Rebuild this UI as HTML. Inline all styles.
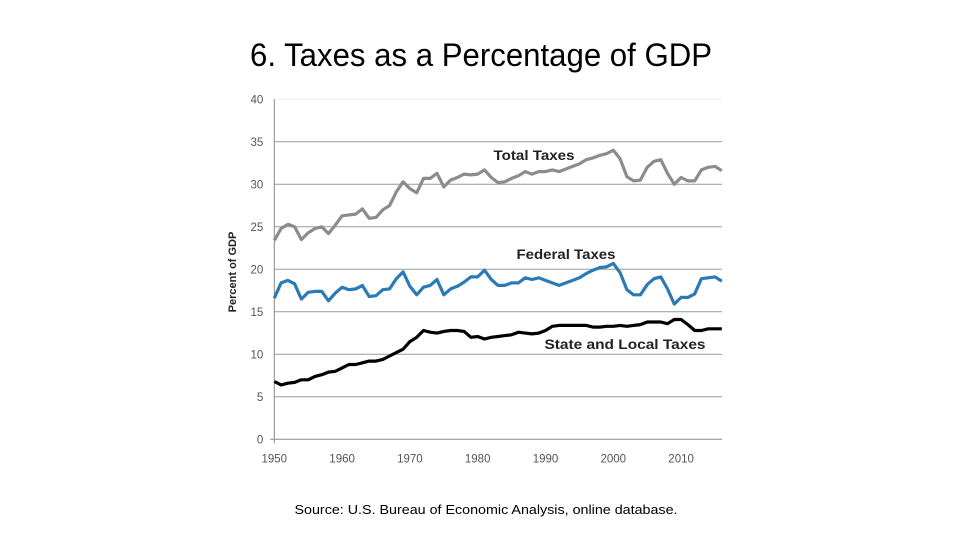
<!DOCTYPE html>
<html><head><meta charset="utf-8"><style>
body{margin:0;background:#fff}
svg{display:block;font-family:"Liberation Sans",sans-serif}
</style></head><body>
<svg id="chart" width="960" height="540" viewBox="0 0 960 540">
<text x="481" y="66" text-anchor="middle" font-size="32" textLength="462" lengthAdjust="spacingAndGlyphs" fill="#000">6. Taxes as a Percentage of GDP</text>
<g id="grid"></g><g id="axes"></g><g id="series"></g>
<text x="534" y="160" text-anchor="middle" font-size="14" font-weight="bold" fill="#222" textLength="81" lengthAdjust="spacingAndGlyphs">Total Taxes</text>
<text x="566" y="259" text-anchor="middle" font-size="14" font-weight="bold" fill="#222" textLength="99" lengthAdjust="spacingAndGlyphs">Federal Taxes</text>
<text x="625" y="349" text-anchor="middle" font-size="14" font-weight="bold" fill="#222" textLength="161" lengthAdjust="spacingAndGlyphs">State and Local  Taxes</text>
<text transform="translate(236,272) rotate(-90)" text-anchor="middle" font-size="11" font-weight="bold" fill="#222">Percent of GDP</text>
<text x="486" y="514" text-anchor="middle" font-size="12.5" fill="#000" textLength="383" lengthAdjust="spacingAndGlyphs">Source: U.S. Bureau of Economic Analysis, online database.</text>
</svg>
<script>
const startYear = 1950;
const federal = [16.6,18.4,18.7,18.3,16.5,17.3,17.4,17.4,16.3,17.2,17.9,17.6,17.7,18.1,16.8,16.9,17.6,17.7,18.9,19.7,18.0,17.0,17.9,18.1,18.8,17.0,17.7,18.0,18.5,19.1,19.1,19.9,18.8,18.1,18.1,18.4,18.4,19.0,18.8,19.0,18.7,18.4,18.1,18.4,18.7,19.0,19.5,19.9,20.2,20.3,20.7,19.6,17.6,17.0,17.0,18.2,18.9,19.1,17.7,15.9,16.7,16.7,17.1,18.9,19.0,19.1,18.6];
const stateLocal = [6.8,6.4,6.6,6.7,7.0,7.0,7.4,7.6,7.9,8.0,8.4,8.8,8.8,9.0,9.2,9.2,9.4,9.8,10.2,10.6,11.5,12.0,12.8,12.6,12.5,12.7,12.8,12.8,12.7,12.0,12.1,11.8,12.0,12.1,12.2,12.3,12.6,12.5,12.4,12.5,12.8,13.3,13.4,13.4,13.4,13.4,13.4,13.2,13.2,13.3,13.3,13.4,13.3,13.4,13.5,13.8,13.8,13.8,13.6,14.1,14.1,13.5,12.8,12.8,13.0,13.0,13.0];
const total = [23.4,24.8,25.3,25.0,23.5,24.3,24.8,25.0,24.2,25.2,26.3,26.4,26.5,27.1,26.0,26.1,27.0,27.5,29.1,30.3,29.5,29.0,30.7,30.7,31.3,29.7,30.5,30.8,31.2,31.1,31.2,31.7,30.8,30.2,30.3,30.7,31.0,31.5,31.2,31.5,31.5,31.7,31.5,31.8,32.1,32.4,32.9,33.1,33.4,33.6,34.0,33.0,30.9,30.4,30.5,32.0,32.7,32.9,31.3,30.0,30.8,30.4,30.4,31.7,32.0,32.1,31.6];
const yTicks = [0,5,10,15,20,25,30,35,40];
const xTicks = [1950,1960,1970,1980,1990,2000,2010];

const NS="http://www.w3.org/2000/svg";
const x0=274.3, pxYear=6.78, y0=439.3, pxUnit=8.5, xEnd=722;
const xs=yr=>x0+(yr-startYear)*pxYear;
const ys=v=>y0-v*pxUnit;
function mk(tag,attrs,parent){const e=document.createElementNS(NS,tag);for(const k in attrs)e.setAttribute(k,attrs[k]);document.getElementById(parent).appendChild(e);return e;}

yTicks.forEach(t=>{
  if(t>0){const l=mk('line',{x1:x0,x2:xEnd,y1:ys(t),y2:ys(t),stroke:t===40?'#eee':'#9a9a9a','stroke-width':1},'grid');
  
  }
  const tx=mk('text',{x:x0-11,y:ys(t)+4,'text-anchor':'end','font-size':11.5,fill:'#555'},'axes');
  tx.textContent=t;
  
  
});
const ax=mk('line',{x1:x0,x2:x0,y1:ys(40),y2:y0+4,stroke:'#888'},'axes');


const bx=mk('line',{x1:x0-4,x2:xEnd,y1:y0,y2:y0,stroke:'#888'},'axes');


xTicks.forEach(t=>{
  const tx=mk('text',{x:xs(t),y:y0+23,'text-anchor':'middle','font-size':11.5,fill:'#555'},'axes');
  tx.textContent=t;
  
  
});
function line(arr,color,name){
  const d=arr.map((v,i)=>(i?'L':'M')+xs(startYear+i).toFixed(1)+','+ys(v).toFixed(1)).join('');
  const p=mk('path',{d:d,fill:'none',stroke:color,'stroke-width':3.2,'stroke-linejoin':'round'},'series');
  
  
}
line(total,'#8c8c8c','total-taxes-line');
line(federal,'#2a7ab5','federal-taxes-line');
line(stateLocal,'#000','state-local-taxes-line');
</script>
</body></html>
